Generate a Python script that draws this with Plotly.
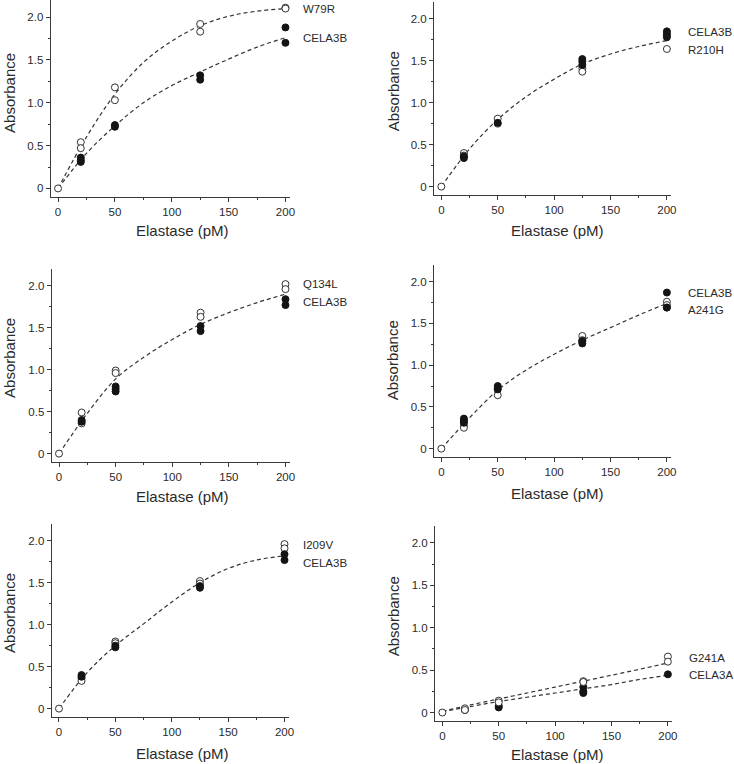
import plotly.graph_objects as go

W, H = 734, 764

# ---------------- data ----------------
fit_x = [0, 25, 50, 75, 100, 125, 150, 175, 200]

# Panel 1: W79R vs CELA3B
p1_open_name = "W79R"
p1_open_x = [0, 20, 20, 50, 50, 125, 125, 200, 200]
p1_open_y = [0, 0.54, 0.47, 1.18, 1.03, 1.92, 1.83, 2.11, 2.10]
p1_fill_name = "CELA3B"
p1_fill_x = [20, 20, 20, 50, 50, 125, 125, 200, 200]
p1_fill_y = [0.36, 0.33, 0.31, 0.74, 0.72, 1.32, 1.27, 1.88, 1.70]
p1_fit_open = [0, 0.60, 1.10, 1.47, 1.72, 1.90, 2.01, 2.07, 2.10]
p1_fit_fill = [0, 0.41, 0.73, 1.00, 1.20, 1.36, 1.51, 1.65, 1.76]

# Panel 2: CELA3B vs R210H
p2_open_name = "R210H"
p2_open_x = [0, 20, 20, 50, 50, 125, 125, 200, 200]
p2_open_y = [0, 0.40, 0.37, 0.81, 0.75, 1.41, 1.37, 1.80, 1.64]
p2_fill_name = "CELA3B"
p2_fill_x = [20, 20, 50, 125, 125, 125, 200, 200, 200]
p2_fill_y = [0.36, 0.34, 0.76, 1.52, 1.49, 1.45, 1.85, 1.82, 1.78]
p2_fit = [0, 0.45, 0.80, 1.07, 1.28, 1.46, 1.58, 1.67, 1.74]

# Panel 3: Q134L vs CELA3B
p3_open_name = "Q134L"
p3_open_x = [0, 20, 20, 50, 50, 125, 125, 200, 200]
p3_open_y = [0, 0.49, 0.36, 0.99, 0.96, 1.68, 1.63, 2.02, 1.96]
p3_fill_name = "CELA3B"
p3_fill_x = [20, 20, 50, 50, 50, 125, 125, 200, 200]
p3_fill_y = [0.40, 0.38, 0.80, 0.77, 0.74, 1.52, 1.46, 1.84, 1.77]
p3_fit = [0, 0.48, 0.89, 1.15, 1.36, 1.54, 1.68, 1.80, 1.90]

# Panel 4: CELA3B vs A241G
p4_open_name = "A241G"
p4_open_x = [0, 20, 20, 50, 50, 125, 125, 200, 200, 200]
p4_open_y = [0, 0.27, 0.25, 0.72, 0.64, 1.35, 1.30, 1.76, 1.72, 1.69]
p4_fill_name = "CELA3B"
p4_fill_x = [20, 20, 20, 50, 50, 125, 125, 200, 200]
p4_fill_y = [0.36, 0.33, 0.31, 0.75, 0.71, 1.29, 1.26, 1.87, 1.69]
p4_fit = [0, 0.37, 0.70, 0.94, 1.13, 1.30, 1.45, 1.60, 1.74]

# Panel 5: I209V vs CELA3B
p5_open_name = "I209V"
p5_open_x = [0, 20, 20, 50, 50, 125, 125, 200, 200]
p5_open_y = [0, 0.36, 0.33, 0.80, 0.78, 1.52, 1.49, 1.96, 1.91]
p5_fill_name = "CELA3B"
p5_fill_x = [20, 20, 50, 50, 125, 125, 200, 200]
p5_fill_y = [0.40, 0.38, 0.75, 0.73, 1.46, 1.44, 1.84, 1.77]
p5_fit = [0, 0.43, 0.75, 1.01, 1.27, 1.50, 1.67, 1.77, 1.82]

# Panel 6: G241A vs CELA3A
p6_open_name = "G241A"
p6_open_x = [0, 20, 20, 50, 50, 125, 125, 200, 200]
p6_open_y = [0, 0.05, 0.03, 0.14, 0.12, 0.37, 0.36, 0.66, 0.60]
p6_fill_name = "CELA3A"
p6_fill_x = [20, 50, 50, 125, 125, 125, 200]
p6_fill_y = [0.03, 0.08, 0.06, 0.30, 0.25, 0.23, 0.45]
p6_fit_open = [0.015, 0.09, 0.16, 0.23, 0.30, 0.37, 0.44, 0.51, 0.585]
p6_fit_fill = [0.01, 0.07, 0.13, 0.18, 0.23, 0.28, 0.33, 0.39, 0.44]

# label positions (text, y in data units)
p1_labels = [("W79R", 2.09), ("CELA3B", 1.76)]
p2_labels = [("CELA3B", 1.84), ("R210H", 1.63)]
p3_labels = [("Q134L", 2.02), ("CELA3B", 1.81)]
p4_labels = [("CELA3B", 1.87), ("A241G", 1.66)]
p5_labels = [("I209V", 1.95), ("CELA3B", 1.73)]
p6_labels = [("G241A", 0.645), ("CELA3A", 0.44)]

y_tickvals = [0, 0.5, 1.0, 1.5, 2.0]
y_ticktext = ["0", "0.5", "1.0", "1.5", "2.0"]
x_tickvals = [0, 50, 100, 150, 200]
x_ticktext = ["0", "50", "100", "150", "200"]

x_title = "Elastase (pM)"
y_title = "Absorbance"

# ---------------- layout geometry (pixels) ----------------
# (x0, x1, ytop, ybottom)
boxes = [
    (51, 292, 0, 197),
    (437, 676, 2, 195),
    (52, 292, 269, 462),
    (437, 676, 265, 457),
    (52, 291, 524, 717),
    (438, 677, 526, 721),
]
label_shift = [16, 19, 16, 19, 16, 19]
open_on_top = [False, False, False, False, False, True]
xtitle_pos = [(184, 230), (561, 230), (184, 496), (561, 493), (184, 753), (561, 754)]
ytitle_pos = [(9, 93), (396, 91), (9, 358), (396, 360), (9, 613), (396, 616)]

panels = [
    dict(open=(p1_open_x, p1_open_y), fill=(p1_fill_x, p1_fill_y), fits=[p1_fit_open, p1_fit_fill], labels=p1_labels),
    dict(open=(p2_open_x, p2_open_y), fill=(p2_fill_x, p2_fill_y), fits=[p2_fit], labels=p2_labels),
    dict(open=(p3_open_x, p3_open_y), fill=(p3_fill_x, p3_fill_y), fits=[p3_fit], labels=p3_labels),
    dict(open=(p4_open_x, p4_open_y), fill=(p4_fill_x, p4_fill_y), fits=[p4_fit], labels=p4_labels),
    dict(open=(p5_open_x, p5_open_y), fill=(p5_fill_x, p5_fill_y), fits=[p5_fit], labels=p5_labels),
    dict(open=(p6_open_x, p6_open_y), fill=(p6_fill_x, p6_fill_y), fits=[p6_fit_open, p6_fit_fill], labels=p6_labels),
]

FONT = "Liberation Sans, Arial, sans-serif"
TXT = "#2a2a2a"
AX = "#3a3a3a"

fig = go.Figure()
annotations = []
layout_axes = {}

for i, (p, box) in enumerate(zip(panels, boxes)):
    n = i + 1
    xa = "x" if n == 1 else f"x{n}"
    ya = "y" if n == 1 else f"y{n}"
    x0, x1, yt, yb = box
    xdom = [x0 / W, x1 / W]
    ydom = [1 - yb / H, 1 - yt / H]

    for fy in p["fits"]:
        fig.add_trace(go.Scatter(
            x=fit_x, y=fy, mode="lines", xaxis=xa, yaxis=ya,
            line=dict(color="#333333", width=1.2, dash="4px,3px", shape="spline", smoothing=1.0),
            showlegend=False, hoverinfo="skip"))
    open_tr = go.Scatter(
        x=p["open"][0], y=p["open"][1], mode="markers", xaxis=xa, yaxis=ya,
        marker=dict(size=7, color="white", line=dict(color="#333333", width=1)),
        showlegend=False, cliponaxis=False)
    fill_tr = go.Scatter(
        x=p["fill"][0], y=p["fill"][1], mode="markers", xaxis=xa, yaxis=ya,
        marker=dict(size=7, color="#141414", line=dict(color="#141414", width=1)),
        showlegend=False, cliponaxis=False)
    if open_on_top[i]:
        fig.add_trace(fill_tr)
        fig.add_trace(open_tr)
    else:
        fig.add_trace(open_tr)
        fig.add_trace(fill_tr)

    axis_common = dict(
        showline=True, linecolor=AX, linewidth=1, showgrid=False, zeroline=False,
        ticks="outside", ticklen=4, tickwidth=1, tickcolor=AX,
        tickfont=dict(family=FONT, size=11.5, color=TXT),
    )
    xkey = "xaxis" if n == 1 else f"xaxis{n}"
    ykey = "yaxis" if n == 1 else f"yaxis{n}"
    layout_axes[xkey] = dict(axis_common, domain=xdom, anchor=ya, range=[-6.5, 204],
                             tickmode="array", tickvals=x_tickvals, ticktext=x_ticktext,
                             minor=dict(ticks="outside", ticklen=2, tickwidth=1, tickcolor=AX,
                                        tickmode="array", tickvals=[25, 75, 125, 175]))
    layout_axes[ykey] = dict(axis_common, domain=ydom, anchor=xa, range=[-0.1, 2.2],
                             tickmode="array", tickvals=y_tickvals, ticktext=y_ticktext,
                             minor=dict(ticks="outside", ticklen=2, tickwidth=1, tickcolor=AX,
                                        tickmode="array", tickvals=[0.25, 0.75, 1.25, 1.75]))

    for text, ly in p["labels"]:
        annotations.append(dict(
            x=200, y=ly, xref=xa, yref=ya, text=text, showarrow=False,
            xanchor="left", yanchor="middle", xshift=label_shift[i],
            font=dict(family=FONT, size=11.5, color=TXT)))

    tx, ty = xtitle_pos[i]
    annotations.append(dict(
        x=tx / W, y=1 - ty / H, xref="paper", yref="paper", text=x_title,
        showarrow=False, xanchor="center", yanchor="middle",
        font=dict(family=FONT, size=15, color=TXT)))
    sx, sy = ytitle_pos[i]
    annotations.append(dict(
        x=sx / W, y=1 - sy / H, xref="paper", yref="paper", text=y_title,
        showarrow=False, xanchor="center", yanchor="middle", textangle=-90,
        font=dict(family=FONT, size=15, color=TXT)))

fig.update_layout(
    width=W, height=H,
    margin=dict(l=0, r=0, t=0, b=0),
    paper_bgcolor="white", plot_bgcolor="white",
    annotations=annotations,
    **layout_axes,
)

fig.write_html(
    "out.html",
    config={"displayModeBar": False},
    post_script="document.body.style.margin='0px';document.body.style.padding='0px';",
)
